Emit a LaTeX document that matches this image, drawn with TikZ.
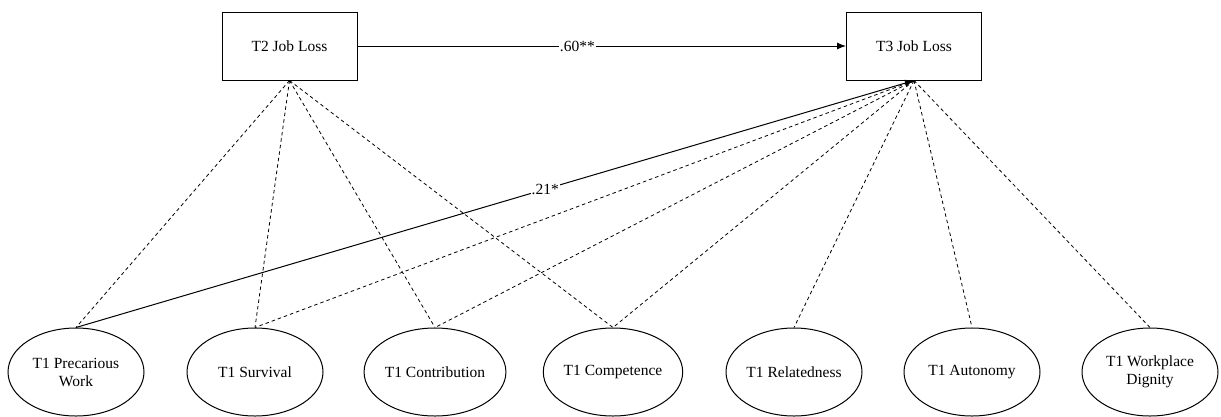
\documentclass[tikz,border=0pt]{standalone}
\usepackage{fontspec}
\setmainfont{Liberation Serif}
\usetikzlibrary{shapes.geometric,arrows.meta}
\begin{document}
\begin{tikzpicture}[x=1pt,y=-1pt,
  every node/.style={font=\fontsize{15.5}{18}\selectfont},
  box/.style={draw, line width=1pt, minimum width=135pt, minimum height=68pt, inner sep=0pt},
  latent/.style={draw, ellipse, line width=1pt, minimum width=136pt, minimum height=88pt, inner sep=0pt, align=center},
  dline/.style={dashed, dash pattern=on 3.5pt off 3pt, line width=0.8pt},
  sline/.style={line width=1pt},
  tip/.style={-{Latex[length=9pt,width=7pt]}},
  lbl/.style={fill=white, inner sep=1pt}
]
\useasboundingbox (0,0) rectangle (1221,416);
\node[box] (t2) at (289.5,46) {T2 Job Loss};
\node[box] (t3) at (914,46) {T3 Job Loss};

\node[latent] (pw) at (76,372) {T1 Precarious\\Work};
\node[latent] (sv) at (255,372) {T1 Survival};
\node[latent] (ct) at (435,372) {T1 Contribution};
\node[latent] (cp) at (613,372) {T1 Competence};
\node[latent] (rl) at (794,372) {T1 Relatedness};
\node[latent] (au) at (972,372) {T1 Autonomy};
\node[latent] (dg) at (1150,372) {T1 Workplace\\Dignity};

\draw[sline,tip] (t2.east) -- node[lbl,pos=0.45] {.60**} (t3.west);

\foreach \n in {pw,sv,ct,cp}
  \draw[dline] (t2.south) -- (\n.north);
\foreach \n in {sv,ct,cp,rl,au,dg}
  \draw[dline] (t3.south) -- (\n.north);

\draw[sline,tip] (pw.north) -- node[lbl,pos=0.56] {.21*} (t3.south);
\end{tikzpicture}
\end{document}
